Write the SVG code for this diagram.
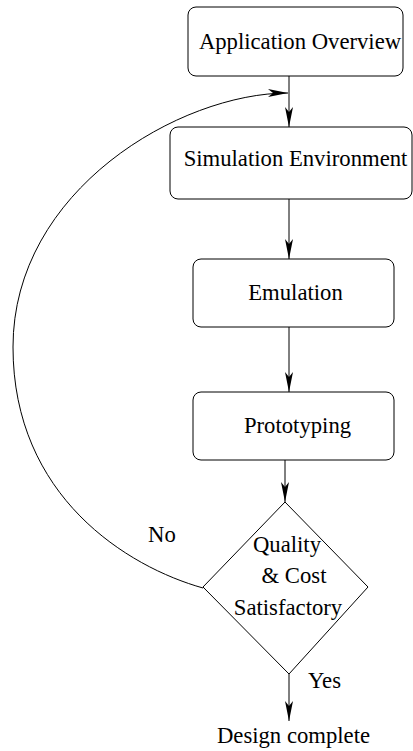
<svg xmlns="http://www.w3.org/2000/svg" width="413" height="751" viewBox="0 0 413 751">
<style>
.box{fill:#fff;stroke:#000;stroke-width:1}
.c{fill:none;stroke:#000;stroke-width:1}
</style>
<defs>
<marker id="ah" markerUnits="userSpaceOnUse" markerWidth="20" markerHeight="8" refX="20" refY="4" orient="auto" viewBox="0 0 20 8">
<path d="M0,0 L20,4 L0,8 L5,4 Z" fill="#000"/>
</marker>
</defs>
<rect width="413" height="751" fill="#fff"/>
<g id="connectors">
<line class="c" x1="289" y1="76" x2="289" y2="127" marker-end="url(#ah)"/>
<line class="c" x1="289" y1="199" x2="289" y2="259" marker-end="url(#ah)"/>
<line class="c" x1="289" y1="327" x2="289" y2="392" marker-end="url(#ah)"/>
<line class="c" x1="285" y1="460" x2="285" y2="502" marker-end="url(#ah)"/>
<line class="c" x1="289" y1="674" x2="289" y2="721" marker-end="url(#ah)"/>
<path class="c" d="M203,588 C128,567 13,497 13,347 C13,190 180,93 288,93" marker-end="url(#ah)"/>
<text font-family="Liberation Serif" font-size="22.7" x="148" y="542">No</text>
<text font-family="Liberation Serif" font-size="22.7" x="308" y="688">Yes</text>
</g>
<g id="n1">
<rect class="box" x="188" y="7" width="215" height="69" rx="8"/>
<text font-family="Liberation Serif" font-size="22.7" text-anchor="middle" x="300" y="49">Application Overview</text>
</g>
<g id="n2">
<rect class="box" x="170" y="127" width="242" height="72" rx="8"/>
<text font-family="Liberation Serif" font-size="22.7" text-anchor="middle" x="295.5" y="166">Simulation Environment</text>
</g>
<g id="n3">
<rect class="box" x="193" y="259" width="201" height="68" rx="8"/>
<text font-family="Liberation Serif" font-size="22.7" text-anchor="middle" x="295.5" y="300">Emulation</text>
</g>
<g id="n4">
<rect class="box" x="193" y="392" width="201" height="68" rx="8"/>
<text font-family="Liberation Serif" font-size="22.7" text-anchor="middle" x="297.5" y="433">Prototyping</text>
</g>
<g id="n5">
<polygon class="box" points="285,502 368,587 289,674 203,587"/>
<text font-family="Liberation Serif" font-size="22.7" text-anchor="middle" x="287" y="552">Quality</text>
<text font-family="Liberation Serif" font-size="22.7" text-anchor="middle" x="294" y="583">&amp; Cost</text>
<text font-family="Liberation Serif" font-size="22.7" text-anchor="middle" x="288" y="615">Satisfactory</text>
</g>
<g id="n6">
<text font-family="Liberation Serif" font-size="22.7" text-anchor="middle" x="293.5" y="743">Design complete</text>
</g>
</svg>
